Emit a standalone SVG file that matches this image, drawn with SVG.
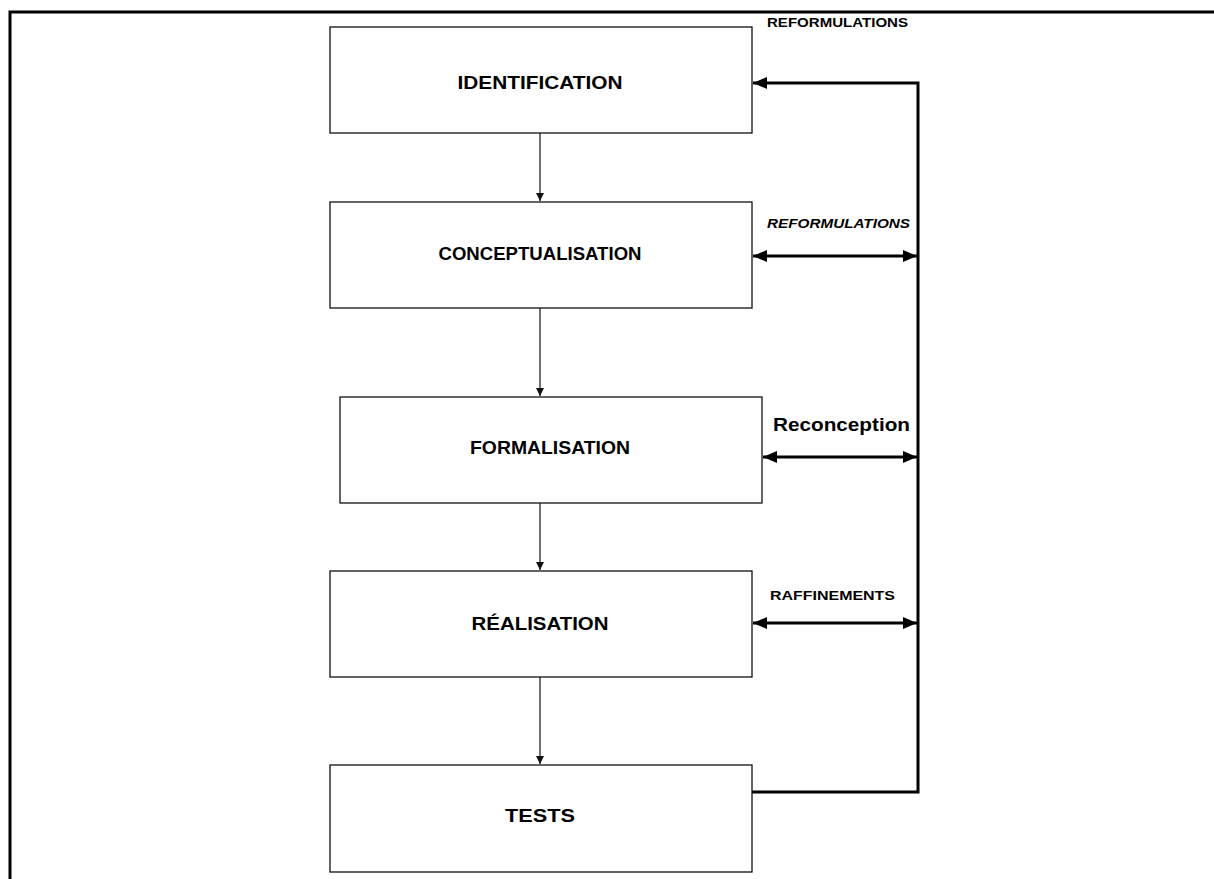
<svg xmlns="http://www.w3.org/2000/svg" width="1214" height="879" viewBox="0 0 1214 879">
  <style>
    .box { fill: #ffffff; stroke: #111111; stroke-width: 1.3; }
    .frame { fill: none; stroke: #000000; stroke-width: 3; }
    .step { font-family: "Liberation Sans", Arial, sans-serif; font-weight: bold; font-size: 19px; fill: #000000; text-anchor: middle; }
    .tag { font-family: "Liberation Sans", Arial, sans-serif; font-weight: bold; font-size: 12px; fill: #000000; }
    .tag-i { font-style: italic; }
    .tag-big { font-family: "Liberation Sans", Arial, sans-serif; font-weight: bold; font-size: 18px; fill: #000000; }
    .flow { fill: none; stroke: #111111; stroke-width: 1.2; }
    .loop { fill: none; stroke: #000000; stroke-width: 3; }
  </style>
  <defs>
    <marker id="thin" markerUnits="userSpaceOnUse" markerWidth="10" markerHeight="10" refX="8" refY="4" orient="auto">
      <path d="M0,0 L8,4 L0,8 Z" fill="#111111"/>
    </marker>
    <marker id="bold" markerUnits="userSpaceOnUse" markerWidth="16" markerHeight="14" refX="14" refY="6" orient="auto-start-reverse">
      <path d="M0,0 L14,6 L0,12 Z" fill="#000000"/>
    </marker>
  </defs>

  <rect width="1214" height="879" fill="#ffffff"/>

  <!-- outer frame, open on the right and bottom -->
  <path class="frame" d="M10,879 L10,12 L1214,12"/>

  <!-- connectors -->
  <g id="connectors">
    <line class="flow" x1="540" y1="133" x2="540" y2="201" marker-end="url(#thin)"/>
    <line class="flow" x1="540" y1="308" x2="540" y2="396" marker-end="url(#thin)"/>
    <line class="flow" x1="540" y1="503" x2="540" y2="570" marker-end="url(#thin)"/>
    <line class="flow" x1="540" y1="677" x2="540" y2="764" marker-end="url(#thin)"/>

    <!-- feedback loop from TESTS back to IDENTIFICATION -->
    <path class="loop" d="M752,792 L918,792 L918,83 L753,83" marker-end="url(#bold)"/>
    <line class="loop" x1="753" y1="256" x2="917" y2="256" marker-start="url(#bold)" marker-end="url(#bold)"/>
    <line class="loop" x1="763" y1="457" x2="917" y2="457" marker-start="url(#bold)" marker-end="url(#bold)"/>
    <line class="loop" x1="753" y1="623" x2="917" y2="623" marker-start="url(#bold)" marker-end="url(#bold)"/>

    <text class="tag" x="767" y="27" textLength="141" lengthAdjust="spacingAndGlyphs">REFORMULATIONS</text>
    <text class="tag tag-i" x="767" y="228" textLength="143" lengthAdjust="spacingAndGlyphs">REFORMULATIONS</text>
    <text class="tag-big" x="773" y="431" textLength="137" lengthAdjust="spacingAndGlyphs">Reconception</text>
    <text class="tag" x="770" y="600" textLength="125" lengthAdjust="spacingAndGlyphs">RAFFINEMENTS</text>
  </g>

  <g id="identification">
    <rect class="box" x="330" y="27" width="422" height="106"/>
    <text class="step" x="540" y="89" textLength="165" lengthAdjust="spacingAndGlyphs">IDENTIFICATION</text>
  </g>

  <g id="conceptualisation">
    <rect class="box" x="330" y="202" width="422" height="106"/>
    <text class="step" x="540" y="260" textLength="203" lengthAdjust="spacingAndGlyphs">CONCEPTUALISATION</text>
  </g>

  <g id="formalisation">
    <rect class="box" x="340" y="397" width="422" height="106"/>
    <text class="step" x="550" y="454" textLength="160" lengthAdjust="spacingAndGlyphs">FORMALISATION</text>
  </g>

  <g id="realisation">
    <rect class="box" x="330" y="571" width="422" height="106"/>
    <text class="step" x="540" y="630" textLength="137" lengthAdjust="spacingAndGlyphs">RÉALISATION</text>
  </g>

  <g id="tests">
    <rect class="box" x="330" y="765" width="422" height="107"/>
    <text class="step" x="540" y="822" textLength="70" lengthAdjust="spacingAndGlyphs">TESTS</text>
  </g>
</svg>
